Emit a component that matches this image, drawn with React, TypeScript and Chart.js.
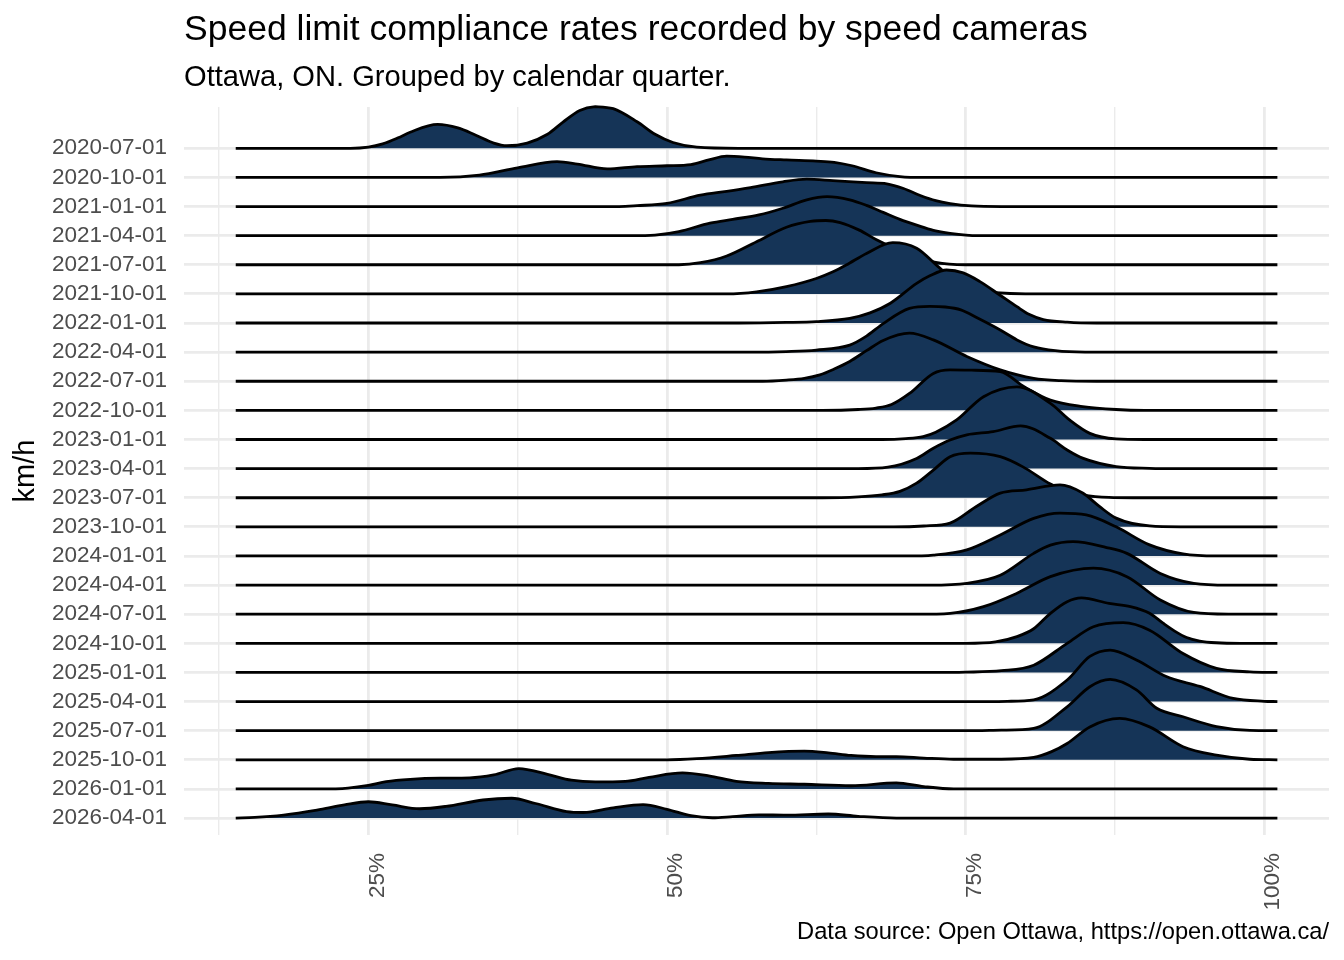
import React, { useEffect, useRef } from 'react'
import Chart, { ChartConfiguration } from 'chart.js/auto'

type Ridge = [number, number][]

const FONT = '"Liberation Sans", Arial, Helvetica, sans-serif'
const RIDGE_FILL = '#153457'
const GRID = '#ebebeb'

const quarterLabels = [
  '2020-07-01', '2020-10-01', '2021-01-01', '2021-04-01', '2021-07-01', '2021-10-01',
  '2022-01-01', '2022-04-01', '2022-07-01', '2022-10-01', '2023-01-01', '2023-04-01',
  '2023-07-01', '2023-10-01', '2024-01-01', '2024-04-01', '2024-07-01', '2024-10-01',
  '2025-01-01', '2025-04-01', '2025-07-01', '2025-10-01', '2026-01-01', '2026-04-01',
]

// [compliance %, ridge height in rows]
const q2020_07: Ridge = [[13.9, 0], [23.5, 0], [25, 0.04], [26.2, 0.15], [27.5, 0.36], [28.5, 0.55], [30.8, 0.82], [32.5, 0.7], [34, 0.45], [35.5, 0.18], [36.6, 0.09], [38.3, 0.18], [40, 0.48], [41.3, 0.9], [42.7, 1.3], [44, 1.43], [45.5, 1.36], [47.5, 0.91], [49, 0.48], [50.5, 0.2], [52.5, 0.04], [56, 0], [101.1, 0]]
const q2020_10: Ridge = [[13.9, 0], [31, 0], [34.3, 0.08], [37.5, 0.33], [40.8, 0.54], [42.5, 0.46], [45, 0.29], [47.5, 0.37], [50, 0.4], [52, 0.44], [53.5, 0.6], [55, 0.73], [56.5, 0.7], [58, 0.64], [60, 0.6], [62.5, 0.56], [64, 0.52], [65.5, 0.4], [67.5, 0.16], [69.5, 0.03], [71.5, 0], [101.1, 0]]
const q2021_01: Ridge = [[13.9, 0], [46, 0], [47.5, 0.03], [50, 0.11], [52.8, 0.39], [55, 0.52], [57, 0.65], [59.7, 0.85], [61.7, 0.94], [63.9, 0.89], [66.7, 0.82], [68.4, 0.78], [69.8, 0.62], [71.2, 0.38], [72.5, 0.2], [73.7, 0.1], [75.5, 0.02], [78, 0], [101.1, 0]]
const q2021_04: Ridge = [[13.9, 0], [47, 0], [49, 0.02], [51, 0.14], [53.6, 0.43], [55.5, 0.56], [57.7, 0.71], [59.7, 0.94], [61.7, 1.23], [63.4, 1.34], [65.3, 1.23], [66.7, 1.04], [68.1, 0.8], [69.5, 0.56], [70.9, 0.36], [72.3, 0.18], [73.7, 0.08], [76, 0], [101.1, 0]]
const q2021_07: Ridge = [[13.9, 0], [51, 0], [52.8, 0.07], [55, 0.3], [57.5, 0.79], [60, 1.29], [62, 1.49], [63.3, 1.52], [64.5, 1.45], [66.1, 1.19], [67.5, 0.87], [70, 0.4], [72.5, 0.08], [75, 0], [101.1, 0]]
const q2021_10: Ridge = [[13.9, 0], [55, 0], [57.5, 0.07], [60, 0.25], [62.5, 0.53], [63.9, 0.76], [65, 0.99], [66.7, 1.39], [68.9, 1.76], [70.9, 1.57], [72.8, 0.9], [74, 0.5], [75, 0.25], [76.3, 0.1], [77.5, 0.04], [80, 0], [101.1, 0]]
const q2022_01: Ridge = [[13.9, 0], [56, 0], [60, 0.02], [62.5, 0.05], [65.3, 0.16], [67, 0.35], [68.7, 0.68], [70.9, 1.36], [72, 1.62], [73.4, 1.82], [74.8, 1.72], [76.2, 1.42], [77.8, 0.98], [79.3, 0.56], [80.3, 0.3], [81.5, 0.12], [83.5, 0.03], [86, 0], [101.1, 0]]
const q2022_04: Ridge = [[13.9, 0], [57, 0], [60, 0.02], [62.5, 0.07], [65.3, 0.24], [66.7, 0.55], [68.1, 0.98], [70.3, 1.5], [72, 1.57], [73.3, 1.55], [74.6, 1.45], [76, 1.17], [77.9, 0.76], [79.3, 0.42], [80.7, 0.18], [82.5, 0.05], [85, 0], [101.1, 0]]
const q2022_07: Ridge = [[13.9, 0], [58, 0], [60, 0.04], [61.5, 0.1], [62.8, 0.22], [64, 0.42], [65.3, 0.68], [66.7, 1.05], [68.1, 1.4], [70.3, 1.65], [72.3, 1.42], [75.1, 0.85], [77.9, 0.39], [80.7, 0.1], [83, 0.02], [86, 0], [101.1, 0]]
const q2022_10: Ridge = [[13.9, 0], [63, 0], [66, 0.03], [67.5, 0.08], [68.8, 0.2], [70.3, 0.58], [72.3, 1.27], [73.7, 1.39], [75.5, 1.38], [77.9, 1.33], [79.9, 0.81], [82.1, 0.35], [84.8, 0.13], [87.6, 0.03], [90, 0], [101.1, 0]]
const q2023_01: Ridge = [[13.9, 0], [68, 0], [70, 0.03], [71.45, 0.1], [72.5, 0.25], [74.25, 0.67], [76.5, 1.47], [79.3, 1.81], [82.1, 1.24], [83.7, 0.67], [85.4, 0.21], [87.6, 0.02], [90, 0], [101.1, 0]]
const q2023_04: Ridge = [[13.9, 0], [66, 0], [68.5, 0.05], [70.9, 0.35], [72.3, 0.7], [73.7, 0.98], [75.1, 1.16], [77.3, 1.27], [79.6, 1.47], [82.1, 1.04], [83.5, 0.64], [84.85, 0.35], [87.6, 0.07], [90.4, 0.01], [93, 0], [101.1, 0]]
const q2023_07: Ridge = [[13.9, 0], [63, 0], [66, 0.03], [68, 0.1], [69.5, 0.22], [70.9, 0.5], [72.3, 0.95], [73.7, 1.41], [75.4, 1.53], [77.9, 1.41], [79.8, 1.06], [82.1, 0.47], [83.5, 0.22], [84.85, 0.09], [87, 0.01], [89, 0], [101.1, 0]]
const q2023_10: Ridge = [[13.9, 0], [69, 0], [71.5, 0.03], [73.7, 0.13], [75.9, 0.7], [77.9, 1.16], [80.1, 1.27], [82.9, 1.44], [84.8, 1.16], [86.2, 0.7], [87.6, 0.3], [90.4, 0.03], [93, 0], [101.1, 0]]
const q2024_01: Ridge = [[13.9, 0], [70, 0], [72.3, 0.03], [75.1, 0.21], [77.9, 0.72], [80.7, 1.29], [82.9, 1.47], [85.1, 1.41], [87.6, 1.0], [90.4, 0.38], [93.2, 0.07], [96, 0], [101.1, 0]]
const q2024_04: Ridge = [[13.9, 0], [72, 0], [75.1, 0.06], [77.9, 0.34], [80.7, 1.09], [82.1, 1.37], [84, 1.49], [86.8, 1.29], [88.5, 1.09], [91.3, 0.4], [94.1, 0.06], [97, 0], [101.1, 0]]
const q2024_07: Ridge = [[13.9, 0], [71, 0], [73.7, 0.03], [76.5, 0.26], [79.3, 0.72], [82.1, 1.29], [85.7, 1.58], [88.5, 1.29], [91.3, 0.49], [94.1, 0.06], [97, 0], [101.1, 0]]
const q2024_10: Ridge = [[13.9, 0], [75, 0], [77.5, 0.05], [79.3, 0.23], [80.7, 0.5], [82.1, 1.03], [83.5, 1.43], [84.7, 1.56], [87, 1.37], [88.8, 1.26], [90.4, 1.03], [91.5, 0.7], [92.5, 0.42], [93.5, 0.2], [94.6, 0.08], [96, 0.02], [98, 0], [101.1, 0]]
const q2025_01: Ridge = [[13.9, 0], [72, 0], [75, 0.01], [78, 0.06], [80.7, 0.25], [83.5, 1.0], [85.7, 1.57], [88.2, 1.71], [90.4, 1.45], [93.2, 0.65], [96, 0.14], [98.8, 0.02], [101.1, 0]]
const q2025_04: Ridge = [[13.9, 0], [76, 0], [78.5, 0.01], [80.7, 0.06], [83.5, 0.74], [85.4, 1.55], [87.1, 1.77], [89.3, 1.43], [91.8, 0.86], [94.6, 0.52], [97.4, 0.11], [100, 0.01], [101.1, 0]]
const q2025_07: Ridge = [[13.9, 0], [75, 0], [78, 0.02], [80.7, 0.08], [83.5, 0.82], [85.4, 1.51], [87.1, 1.76], [89.3, 1.4], [91, 0.77], [93.2, 0.48], [96, 0.14], [98.8, 0.01], [101.1, 0]]
const q2025_10: Ridge = [[13.9, 0], [50, 0], [52.5, 0.04], [55.8, 0.15], [58.5, 0.25], [61.5, 0.3], [63.5, 0.24], [65.4, 0.15], [67.5, 0.11], [69.2, 0.11], [71.5, 0.06], [74, 0.02], [78, 0.02], [80.7, 0.08], [82.2, 0.28], [83.5, 0.56], [85.4, 1.13], [87.9, 1.42], [90.4, 1.13], [93.2, 0.45], [96, 0.16], [98.8, 0.02], [101.1, 0]]
const q2026_01: Ridge = [[13.9, 0], [21, 0], [23.3, 0.03], [25, 0.12], [26.5, 0.25], [28.5, 0.33], [31, 0.37], [33.5, 0.38], [35.5, 0.48], [37.6, 0.7], [40, 0.5], [42, 0.3], [44, 0.24], [46.5, 0.26], [48.5, 0.4], [51.3, 0.55], [53.5, 0.45], [55.8, 0.26], [58.5, 0.19], [61.5, 0.16], [65.4, 0.11], [69.2, 0.21], [71.5, 0.08], [74, 0], [101.1, 0]]
const q2026_04: Ridge = [[13.9, 0], [15.5, 0.02], [17.9, 0.1], [20.7, 0.27], [23, 0.45], [25, 0.56], [27, 0.45], [29.3, 0.32], [31.5, 0.4], [34.6, 0.62], [37, 0.68], [39, 0.5], [41.6, 0.22], [43, 0.19], [45.5, 0.35], [48, 0.46], [50, 0.3], [52, 0.08], [53.8, 0.01], [55.5, 0.05], [57.7, 0.11], [60, 0.1], [63.5, 0.14], [66, 0.06], [69.2, 0], [101.1, 0]]

const ridges: Ridge[] = [
  q2020_07, q2020_10, q2021_01, q2021_04, q2021_07, q2021_10,
  q2022_01, q2022_04, q2022_07, q2022_10, q2023_01, q2023_04,
  q2023_07, q2023_10, q2024_01, q2024_04, q2024_07, q2024_10,
  q2025_01, q2025_04, q2025_07, q2025_10, q2026_01, q2026_04,
]

const pctTicks = [12.5, 25, 37.5, 50, 62.5, 75, 87.5, 100]
const pctLabeled = [25, 50, 75, 100]

const RidgelineChart: React.FC = () => {
  const chartRef = useRef<HTMLCanvasElement | null>(null)
  const chartInstance = useRef<Chart | null>(null)

  useEffect(() => {
    if (!chartRef.current) return
    if (chartInstance.current) chartInstance.current.destroy()

    const ctx = chartRef.current.getContext('2d')
    if (!ctx) return

    const top = quarterLabels.length - 1

    // lower rows get lower order, so they are painted over the rows above
    const datasets = ridges.map((ridge, i) => {
      const base = top - i
      return {
        label: quarterLabels[i],
        data: ridge.map(([x, h]) => ({ x, y: base + h })),
        borderColor: '#000000',
        borderWidth: 2.8,
        backgroundColor: RIDGE_FILL,
        fill: { value: base },
        pointRadius: 0,
        tension: 0.4,
        cubicInterpolationMode: 'monotone' as const,
        order: base,
        clip: false as const,
      }
    })

    const config: ChartConfiguration<'line'> = {
      type: 'line',
      data: { datasets },
      options: {
        animation: false,
        responsive: false,
        events: [],
        layout: { padding: { left: 0, right: 15, top: 107, bottom: 0 } },
        plugins: {
          legend: { display: false },
          tooltip: { enabled: false },
        },
        scales: {
          x: {
            type: 'linear',
            min: 9.57,
            max: 105.42,
            afterBuildTicks: (axis) => {
              axis.ticks = pctTicks.map((value) => ({ value }))
            },
            afterFit: (axis) => {
              axis.height = 125
            },
            border: { display: false },
            grid: {
              color: GRID,
              lineWidth: (c) => (pctLabeled.includes(c.tick?.value) ? 2.8 : 1.4),
              drawTicks: false,
            },
            ticks: {
              autoSkip: false,
              minRotation: 90,
              maxRotation: 90,
              padding: 18,
              labelOffset: 9,
              color: '#4d4d4d',
              font: { family: FONT, size: 22.5 },
              callback: (v) => (pctLabeled.includes(Number(v)) ? `${v}%` : ''),
            },
          },
          y: {
            type: 'linear',
            min: -0.582,
            max: 24.418,
            afterBuildTicks: (axis) => {
              axis.ticks = quarterLabels.map((_, i) => ({ value: i }))
            },
            afterFit: (axis) => {
              axis.width = 184
            },
            border: { display: false },
            grid: { color: GRID, lineWidth: 2.8, drawTicks: false },
            ticks: {
              autoSkip: false,
              padding: 17,
              color: '#4d4d4d',
              font: { family: FONT, size: 22.5 },
              callback: (v) => quarterLabels[top - Number(v)],
            },
            title: {
              display: true,
              text: 'km/h',
              color: '#000000',
              padding: { top: 9, bottom: 0 },
              font: { family: FONT, size: 29 },
            },
          },
        },
      },
    }

    chartInstance.current = new Chart(ctx, config)

    return () => {
      if (chartInstance.current) {
        chartInstance.current.destroy()
        chartInstance.current = null
      }
    }
  }, [])

  return (
    <canvas
      ref={chartRef}
      width={1344}
      height={960}
      style={{ position: 'absolute', left: 0, top: 0, width: 1344, height: 960 }}
    />
  )
}

const App: React.FC = () => (
  <div
    style={{
      position: 'fixed',
      left: 0,
      top: 0,
      width: 1344,
      height: 960,
      background: '#ffffff',
      fontFamily: FONT,
      color: '#000000',
      overflow: 'hidden',
    }}
  >
    <RidgelineChart />
    <div style={{ position: 'absolute', left: 184, top: 11, fontSize: 35.5, lineHeight: '35.5px', whiteSpace: 'nowrap' }}>
      Speed limit compliance rates recorded by speed cameras
    </div>
    <div style={{ position: 'absolute', left: 184, top: 62, fontSize: 29.1, lineHeight: '29.1px', whiteSpace: 'nowrap' }}>
      Ottawa, ON. Grouped by calendar quarter.
    </div>
    <div style={{ position: 'absolute', right: 15, top: 920, fontSize: 23.7, lineHeight: '23.7px', whiteSpace: 'nowrap' }}>
      Data source: Open Ottawa, https://open.ottawa.ca/
    </div>
  </div>
)

export default App
